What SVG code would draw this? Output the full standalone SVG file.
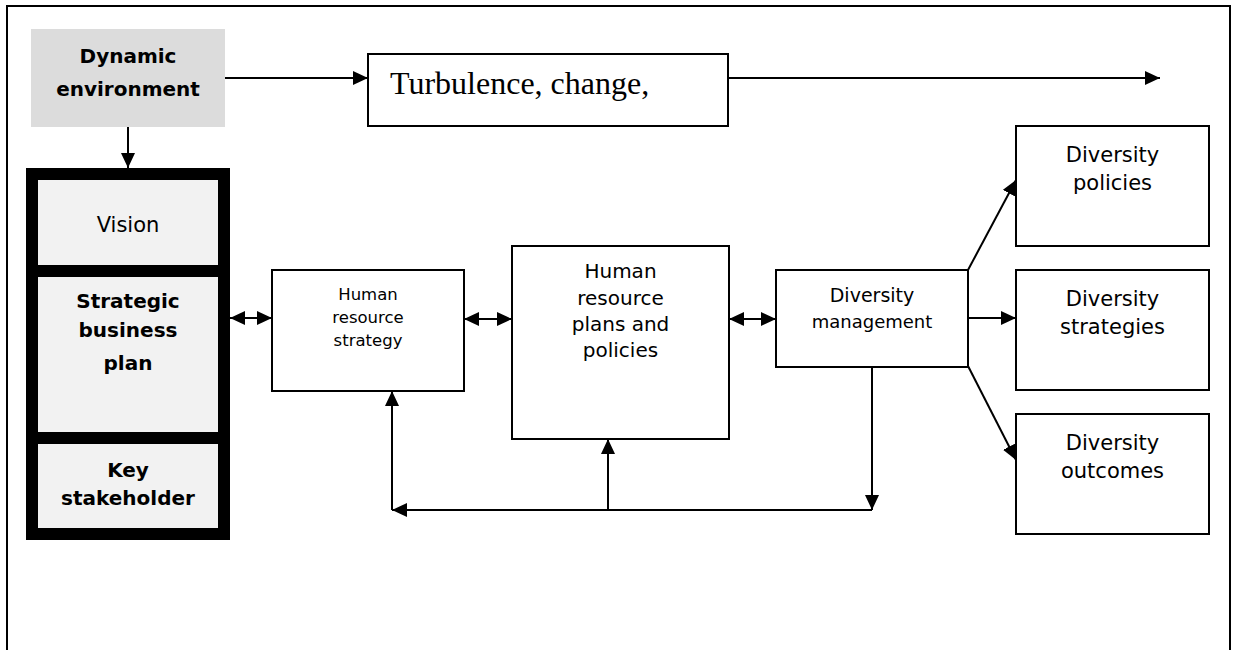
<svg xmlns="http://www.w3.org/2000/svg" width="1234" height="650" viewBox="0 0 1234 650">
<style>
.box{fill:#fff;stroke:#000;stroke-width:2}
.cell{fill:#f2f2f2}
.t{font-family:"DejaVu Sans","Liberation Sans",sans-serif;fill:#000;text-anchor:middle}
.b{font-family:"DejaVu Sans","Liberation Sans",sans-serif;font-weight:bold;fill:#000;text-anchor:middle;font-size:20px}
.ln{fill:none;stroke:#000;stroke-width:2}
</style>
<defs>
<marker id="ah" viewBox="0 0 15 14" markerUnits="userSpaceOnUse" markerWidth="15" markerHeight="14" refX="15" refY="7" orient="auto-start-reverse">
<path d="M0,0 L15,7 L0,14 z" fill="#000"/>
</marker>
</defs>
<rect width="1234" height="650" fill="#fff"/>
<path d="M7,652 L7,6 L1230,6 L1230,652" fill="none" stroke="#000" stroke-width="2"/>

<g id="dynamic-environment">
<rect x="31" y="29" width="194" height="98" fill="#dcdcdc"/>
<text class="b" x="128" y="63">Dynamic</text>
<text class="b" x="128" y="96">environment</text>
</g>

<g id="turbulence">
<rect class="box" x="368" y="54" width="360" height="72"/>
<text x="390" y="94" font-family="Liberation Serif, serif" font-size="32">Turbulence, change,</text>
</g>

<g id="business-stack">
<rect x="26" y="168" width="204" height="372" fill="#000"/>
<g id="vision">
<rect class="cell" x="38" y="180" width="180" height="85"/>
<text class="t" x="128" y="232" font-size="21">Vision</text>
</g>
<g id="strategic-business-plan">
<rect class="cell" x="38" y="277" width="180" height="155"/>
<text class="b" x="128" y="308">Strategic</text>
<text class="b" x="128" y="337">business</text>
<text class="b" x="128" y="370">plan</text>
</g>
<g id="key-stakeholder">
<rect class="cell" x="38" y="444" width="180" height="84"/>
<text class="b" x="128" y="477">Key</text>
<text class="b" x="128" y="505">stakeholder</text>
</g>
</g>

<g id="hr-strategy">
<rect class="box" x="272" y="270" width="192" height="121"/>
<text class="t" x="368" y="300" font-size="16.5">Human</text>
<text class="t" x="368" y="323" font-size="16.5">resource</text>
<text class="t" x="368" y="346" font-size="16.5">strategy</text>
</g>

<g id="hr-plans">
<rect class="box" x="512" y="246" width="217" height="193"/>
<text class="t" x="620.5" y="278" font-size="20">Human</text>
<text class="t" x="620.5" y="305" font-size="20">resource</text>
<text class="t" x="620.5" y="331" font-size="20">plans and</text>
<text class="t" x="620.5" y="357" font-size="20">policies</text>
</g>

<g id="diversity-management">
<rect class="box" x="776" y="270" width="192" height="97"/>
<text class="t" x="872" y="302" font-size="19">Diversity</text>
<text class="t" x="872" y="328" font-size="18">management</text>
</g>

<g id="diversity-policies">
<rect class="box" x="1016" y="126" width="193" height="120"/>
<text class="t" x="1112.5" y="162" font-size="21">Diversity</text>
<text class="t" x="1112.5" y="190" font-size="21">policies</text>
</g>

<g id="diversity-strategies">
<rect class="box" x="1016" y="270" width="193" height="120"/>
<text class="t" x="1112.5" y="306" font-size="21">Diversity</text>
<text class="t" x="1112.5" y="334" font-size="21">strategies</text>
</g>

<g id="diversity-outcomes">
<rect class="box" x="1016" y="414" width="193" height="120"/>
<text class="t" x="1112.5" y="450" font-size="21">Diversity</text>
<text class="t" x="1112.5" y="478" font-size="21">outcomes</text>
</g>

<g id="connectors">
<line class="ln" x1="225" y1="78" x2="368" y2="78" marker-end="url(#ah)"/>
<line class="ln" x1="728" y1="78" x2="1160" y2="78" marker-end="url(#ah)"/>
<line class="ln" x1="128" y1="127" x2="128" y2="168" marker-end="url(#ah)"/>
<line class="ln" x1="230" y1="318" x2="272" y2="318" marker-start="url(#ah)" marker-end="url(#ah)"/>
<line class="ln" x1="464" y1="319" x2="512" y2="319" marker-start="url(#ah)" marker-end="url(#ah)"/>
<line class="ln" x1="729" y1="319" x2="776" y2="319" marker-start="url(#ah)" marker-end="url(#ah)"/>
<line class="ln" x1="872" y1="367" x2="872" y2="510" marker-end="url(#ah)"/>
<line class="ln" x1="872" y1="510" x2="392" y2="510" marker-end="url(#ah)"/>
<line class="ln" x1="392" y1="510" x2="392" y2="391" marker-end="url(#ah)"/>
<line class="ln" x1="608" y1="510" x2="608" y2="439" marker-end="url(#ah)"/>
<line class="ln" x1="968" y1="270" x2="1016" y2="180" marker-end="url(#ah)"/>
<line class="ln" x1="968" y1="318" x2="1016" y2="318" marker-end="url(#ah)"/>
<line class="ln" x1="968" y1="366" x2="1016" y2="460" marker-end="url(#ah)"/>
</g>
</svg>
